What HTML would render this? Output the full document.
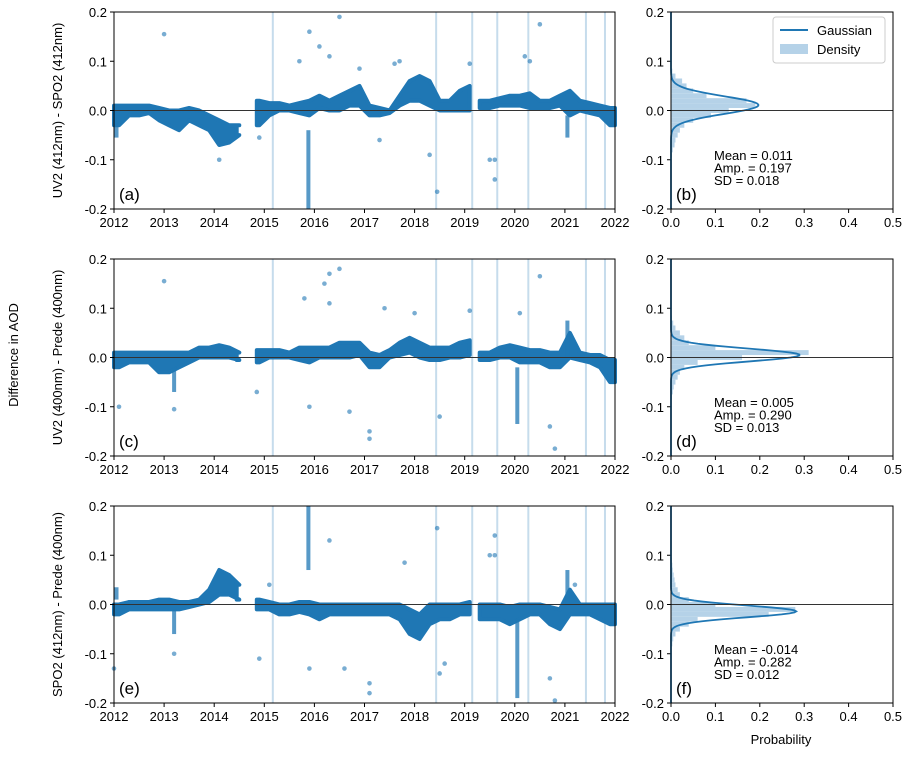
<!DOCTYPE html>
<html><head><meta charset="utf-8"><style>
body{margin:0;background:#fff}
svg{font-family:"Liberation Sans",sans-serif}
</style></head><body>
<svg id="c" width="911" height="755"></svg>
<script>
const years=[2012,2013,2014,2015,2016,2017,2018,2019,2020,2021,2022];
const yTicks=[0.2,0.1,0.0,-0.1,-0.2];
const pTicks=[0,0.1,0.2,0.3,0.4,0.5];
const eventLines=[2015.17,2018.43,2019.15,2019.65,2020.27,2021.42,2021.8];
const binStart=[2012.0,2012.2,2012.4,2012.6,2012.8,2013.0,2013.2,2013.4,2013.6,2013.8,2014.0,2014.2,2014.4,2014.6,2014.8,2015.0,2015.2,2015.4,2015.6,2015.8,2016.0,2016.2,2016.4,2016.6,2016.8,2017.0,2017.2,2017.4,2017.6,2017.8,2018.0,2018.2,2018.4,2018.6,2018.8,2019.0,2019.2,2019.4,2019.6,2019.8,2020.0,2020.2,2020.4,2020.6,2020.8,2021.0,2021.2,2021.4,2021.6,2021.8];
const aLo=[-0.03,-0.01,-0.01,-0.005,-0.02,-0.03,-0.04,-0.02,-0.03,-0.04,-0.07,-0.065,-0.05,null,-0.03,-0.01,0.0,0.0,-0.005,-0.01,0.005,0.0,0.0,0.01,0.01,-0.01,-0.01,-0.005,0.01,0.02,0.02,0.01,0.0,0.0,0.0,0.0,null,0.005,0.01,0.01,0.01,0.005,0.005,0.005,0.01,-0.01,0.0,-0.005,-0.01,-0.03];
const aHi=[0.01,0.01,0.01,0.01,0.005,0.0,0.0,0.005,0.0,-0.01,-0.02,-0.03,-0.03,null,0.02,0.015,0.015,0.01,0.015,0.02,0.03,0.02,0.03,0.04,0.05,0.01,0.005,0.0,0.03,0.06,0.07,0.06,0.02,0.02,0.04,0.05,null,0.02,0.025,0.03,0.03,0.035,0.02,0.02,0.03,0.04,0.02,0.015,0.01,0.005];
const cLo=[-0.02,-0.01,-0.01,-0.01,-0.03,-0.03,-0.02,-0.01,0.0,0.0,0.0,0.0,-0.005,null,-0.01,0.0,0.0,0.0,-0.005,-0.01,0.0,0.0,0.0,0.0,0.005,-0.02,-0.02,0.0,0.005,0.01,0.0,-0.005,-0.005,0.0,0.0,0.005,null,-0.005,0.0,0.0,-0.01,-0.01,-0.01,-0.02,-0.02,0.0,-0.005,-0.01,-0.02,-0.05];
const cHi=[0.01,0.01,0.01,0.01,0.01,0.01,0.01,0.01,0.02,0.02,0.025,0.02,0.01,null,0.015,0.015,0.015,0.01,0.02,0.02,0.02,0.02,0.03,0.03,0.03,0.01,0.005,0.015,0.03,0.04,0.03,0.02,0.02,0.02,0.03,0.035,null,0.01,0.02,0.025,0.02,0.015,0.015,0.01,0.01,0.05,0.01,0.005,0.005,-0.005];
const eLo=[-0.02,-0.01,-0.01,-0.01,-0.01,-0.01,-0.01,-0.005,0.0,0.005,0.02,0.02,0.01,null,-0.01,-0.01,-0.02,-0.02,-0.015,-0.02,-0.03,-0.02,-0.02,-0.02,-0.02,-0.02,-0.02,-0.02,-0.03,-0.06,-0.07,-0.04,-0.03,-0.03,-0.02,-0.02,null,-0.03,-0.03,-0.04,-0.03,-0.02,-0.02,-0.04,-0.05,-0.02,-0.02,-0.02,-0.03,-0.04];
const eHi=[0.0,0.005,0.005,0.005,0.01,0.01,0.005,0.005,0.01,0.03,0.07,0.06,0.04,null,0.01,0.005,0.0,0.0,0.005,0.005,0.0,0.0,0.0,0.0,0.0,0.0,0.0,0.0,0.0,-0.01,-0.02,0.0,0.0,0.0,0.0,0.005,null,0.0,0.0,-0.005,0.0,0.0,0.0,-0.005,-0.01,0.03,0.0,0.0,0.0,0.0];
const aSpikeX=[2015.88,2021.05,2012.05], aSpikeLo=[-0.2,-0.055,-0.055], aSpikeHi=[-0.04,-0.01,-0.02];
const cSpikeX=[2020.05,2013.2,2021.05], cSpikeLo=[-0.135,-0.07,0.0], cSpikeHi=[-0.02,-0.02,0.075];
const eSpikeX=[2015.88,2020.05,2021.05,2013.2,2012.05], eSpikeLo=[0.07,-0.19,0.0,-0.06,0.01], eSpikeHi=[0.2,-0.03,0.07,-0.01,0.035];
const aOutX=[2013.0,2016.5,2015.9,2020.5,2016.1,2016.3,2017.6,2017.7,2015.7,2019.1,2020.2,2017.3,2018.3,2018.45,2019.5,2019.6,2019.6,2014.1,2014.9,2016.9,2020.3];
const aOutY=[0.155,0.19,0.16,0.175,0.13,0.11,0.095,0.1,0.1,0.095,0.11,-0.06,-0.09,-0.165,-0.1,-0.1,-0.14,-0.1,-0.055,0.085,0.1];
const cOutX=[2013.0,2016.5,2016.3,2016.2,2015.8,2016.3,2020.5,2015.9,2016.7,2017.1,2017.1,2012.1,2013.2,2018.5,2020.8,2020.7,2017.4,2018.0,2019.1,2014.85,2020.1];
const cOutY=[0.155,0.18,0.17,0.15,0.12,0.11,0.165,-0.1,-0.11,-0.15,-0.165,-0.1,-0.105,-0.12,-0.185,-0.14,0.1,0.09,0.095,-0.07,0.09];
const eOutX=[2013.2,2015.9,2016.3,2018.45,2017.8,2019.6,2019.6,2019.5,2017.1,2017.1,2016.6,2020.8,2020.7,2012.0,2014.9,2018.5,2018.6,2015.1,2021.2];
const eOutY=[-0.1,-0.13,0.13,0.155,0.085,0.14,0.1,0.1,-0.18,-0.16,-0.13,-0.195,-0.15,-0.13,-0.11,-0.14,-0.12,0.04,0.04];
const histCenters=[-0.1,-0.09,-0.08,-0.07,-0.06,-0.05,-0.04,-0.03,-0.02,-0.01,0,0.01,0.02,0.03,0.04,0.05,0.06,0.07,0.08,0.09,0.1];
const bDens=[0,0.002,0.004,0.008,0.01,0.015,0.02,0.03,0.05,0.09,0.13,0.19,0.17,0.08,0.05,0.035,0.025,0.01,0.003,0.001,0];
const dDens=[0,0.001,0.002,0.004,0.006,0.01,0.015,0.02,0.03,0.06,0.16,0.31,0.1,0.04,0.03,0.02,0.01,0.005,0.002,0.001,0];
const fDens=[0,0.001,0.003,0.005,0.01,0.02,0.04,0.06,0.22,0.28,0.1,0.04,0.02,0.015,0.01,0.008,0.006,0.004,0.003,0.002,0.001];
const gMean=[0.011,0.005,-0.014], gAmp=[0.197,0.290,0.282], gSD=[0.018,0.013,0.012];

const NS="http://www.w3.org/2000/svg";const svg=document.getElementById('c');
function el(t,a,p){const e=document.createElementNS(NS,t);for(const k in a)e.setAttribute(k,a[k]);(p||svg).appendChild(e);return e;}
const L=114,R=615,HL=671,HR=893,C='#1f77b4';
const tops=[12,259,506];const H=197;
const segStart={2014.8:2014.85,2012.0:2012.0,2019.4:2019.3};
const segEnd={2014.4:2014.45,2019.0:2019.1,2021.8:2022};
const panels=[[aLo,aHi,aSpikeX,aSpikeLo,aSpikeHi,aOutX,aOutY,'(a)','UV2 (412nm) - SPO2 (412nm)',bDens,'(b)'],
[cLo,cHi,cSpikeX,cSpikeLo,cSpikeHi,cOutX,cOutY,'(c)','UV2 (400nm) - Prede (400nm)',dDens,'(d)'],
[eLo,eHi,eSpikeX,eSpikeLo,eSpikeHi,eOutX,eOutY,'(e)','SPO2 (412nm) - Prede (400nm)',fDens,'(f)']];
panels.forEach((P,i)=>{
 const T=tops[i];
 const xs=v=>L+(v-2012)/10*(R-L);
 const ys=v=>T+(0.2-v)/0.4*H;
 const hx=v=>HL+v/0.5*(HR-HL);
 const g=el('g',{});
 
 
 eventLines.forEach(v=>{const l=el('line',{x1:xs(v),x2:xs(v),y1:T,y2:T+H,stroke:'#c6dcec','stroke-width':2},g);
  });
 // build contiguous segments
 let segs=[],cur=[];
 binStart.forEach((b,j)=>{if(P[0][j]===null){if(cur.length)segs.push(cur);cur=[];return;}cur.push(j);});
 if(cur.length)segs.push(cur);
 segs.forEach(s=>{
  const up=[],dn=[];
  s.forEach((j,k)=>{
   const b=binStart[j];
   let xc=xs(b+0.1);
   if(k===0){const x0=xs(segStart[b]!==undefined?segStart[b]:b);up.push([x0,ys(P[1][j])]);dn.push([x0,ys(P[0][j])]);}
   up.push([xc,ys(P[1][j])]);dn.push([xc,ys(P[0][j])]);
   if(k===s.length-1){const x1=xs(segEnd[b]!==undefined?segEnd[b]:b+0.2);up.push([x1,ys(P[1][j])]);dn.push([x1,ys(P[0][j])]);}
  });
  const pts=up.concat(dn.reverse()).map(p=>p[0].toFixed(1)+','+p[1].toFixed(1)).join(' ');
  const pg=el('polygon',{points:pts,fill:C,stroke:C,'stroke-width':4,'stroke-linejoin':'round'},g);
  
 });
 P[2].forEach((x,j)=>{const r=el('rect',{x:xs(x)-2,y:ys(P[4][j]),width:4,height:ys(P[3][j])-ys(P[4][j]),fill:C,opacity:0.75},g);
  });
 P[5].forEach((x,j)=>{const c=el('circle',{cx:xs(x),cy:ys(P[6][j]),r:2.3,fill:C,opacity:0.6},g);
  });
 el('line',{x1:L,x2:R,y1:ys(0),y2:ys(0),stroke:'#333','stroke-width':1},g);
 el('rect',{x:L,y:T,width:R-L,height:H,fill:'none',stroke:'#000','stroke-width':1},g);
 years.forEach(y=>{el('line',{x1:xs(y),x2:xs(y),y1:T+H,y2:T+H+4,stroke:'#000'},g);
  const t=el('text',{x:xs(y),y:T+H+18,'text-anchor':'middle','font-size':13},g);t.textContent=y;
  });
 yTicks.forEach(v=>{[L,HL].forEach(x0=>{el('line',{x1:x0-4,x2:x0,y1:ys(v),y2:ys(v),stroke:'#000'},g);
  const t=el('text',{x:x0-7,y:ys(v)+5,'text-anchor':'end','font-size':13},g);t.textContent=v.toFixed(1);
  });});
 const pl=el('text',{x:L+5,y:T+H-9,'font-size':17},g);pl.textContent=P[7];
 
 const yl=el('text',{x:0,y:0,'font-size':13,'text-anchor':'middle',transform:`translate(62,${T+H/2}) rotate(-90)`},g);yl.textContent=P[8];
 
 const hg=el('g',{});
 
 
 histCenters.forEach((c,j)=>{const d=P[9][j];if(!d)return;
  const r=el('rect',{x:HL,y:ys(c+0.005),width:hx(d)-HL,height:ys(c-0.005)-ys(c+0.005),fill:'#b5d2e8'},hg);
  });
 let pts=[];for(let v=-0.2;v<=0.2001;v+=0.002){const d=gAmp[i]*Math.exp(-((v-gMean[i])**2)/(2*gSD[i]**2));pts.push(hx(d)+','+ys(v));}
 const gl=el('polyline',{points:pts.join(' '),fill:'none',stroke:C,'stroke-width':1.8},hg);
 
 el('line',{x1:HL,x2:HR,y1:ys(0),y2:ys(0),stroke:'#333'},hg);
 el('rect',{x:HL,y:T,width:HR-HL,height:H,fill:'none',stroke:'#000'},hg);
 pTicks.forEach(v=>{el('line',{x1:hx(v),x2:hx(v),y1:T+H,y2:T+H+4,stroke:'#000'},hg);
  const t=el('text',{x:hx(v),y:T+H+18,'text-anchor':'middle','font-size':13},hg);t.textContent=v.toFixed(1);
  });
 const hl=el('text',{x:HL+5,y:T+H-9,'font-size':17},hg);hl.textContent=P[10];
 
 const stats=['Mean = '+gMean[i].toFixed(3),'Amp. = '+gAmp[i].toFixed(3),'SD = '+gSD[i].toFixed(3)];
 stats.forEach((s,k)=>{const t=el('text',{x:714,y:T+148+k*12.5,'font-size':13},hg);t.textContent=s;
  });
});
const yt=el('text',{x:0,y:0,'font-size':13,'text-anchor':'middle',transform:'translate(18,355) rotate(-90)'});yt.textContent='Difference in AOD';

const xt=el('text',{x:781,y:744,'font-size':13,'text-anchor':'middle'});xt.textContent='Probability';

const lg=el('g',{});

el('rect',{x:773,y:17,width:112,height:46,rx:3,fill:'#fff',stroke:'#ccc'},lg);
el('line',{x1:780,x2:808,y1:30,y2:30,stroke:C,'stroke-width':2},lg);
const l1=el('text',{x:817,y:35,'font-size':13},lg);l1.textContent='Gaussian';

el('rect',{x:780,y:44,width:28,height:10,fill:'#b5d2e8'},lg);
const l2=el('text',{x:817,y:54,'font-size':13},lg);l2.textContent='Density';

</script>
</body></html>
